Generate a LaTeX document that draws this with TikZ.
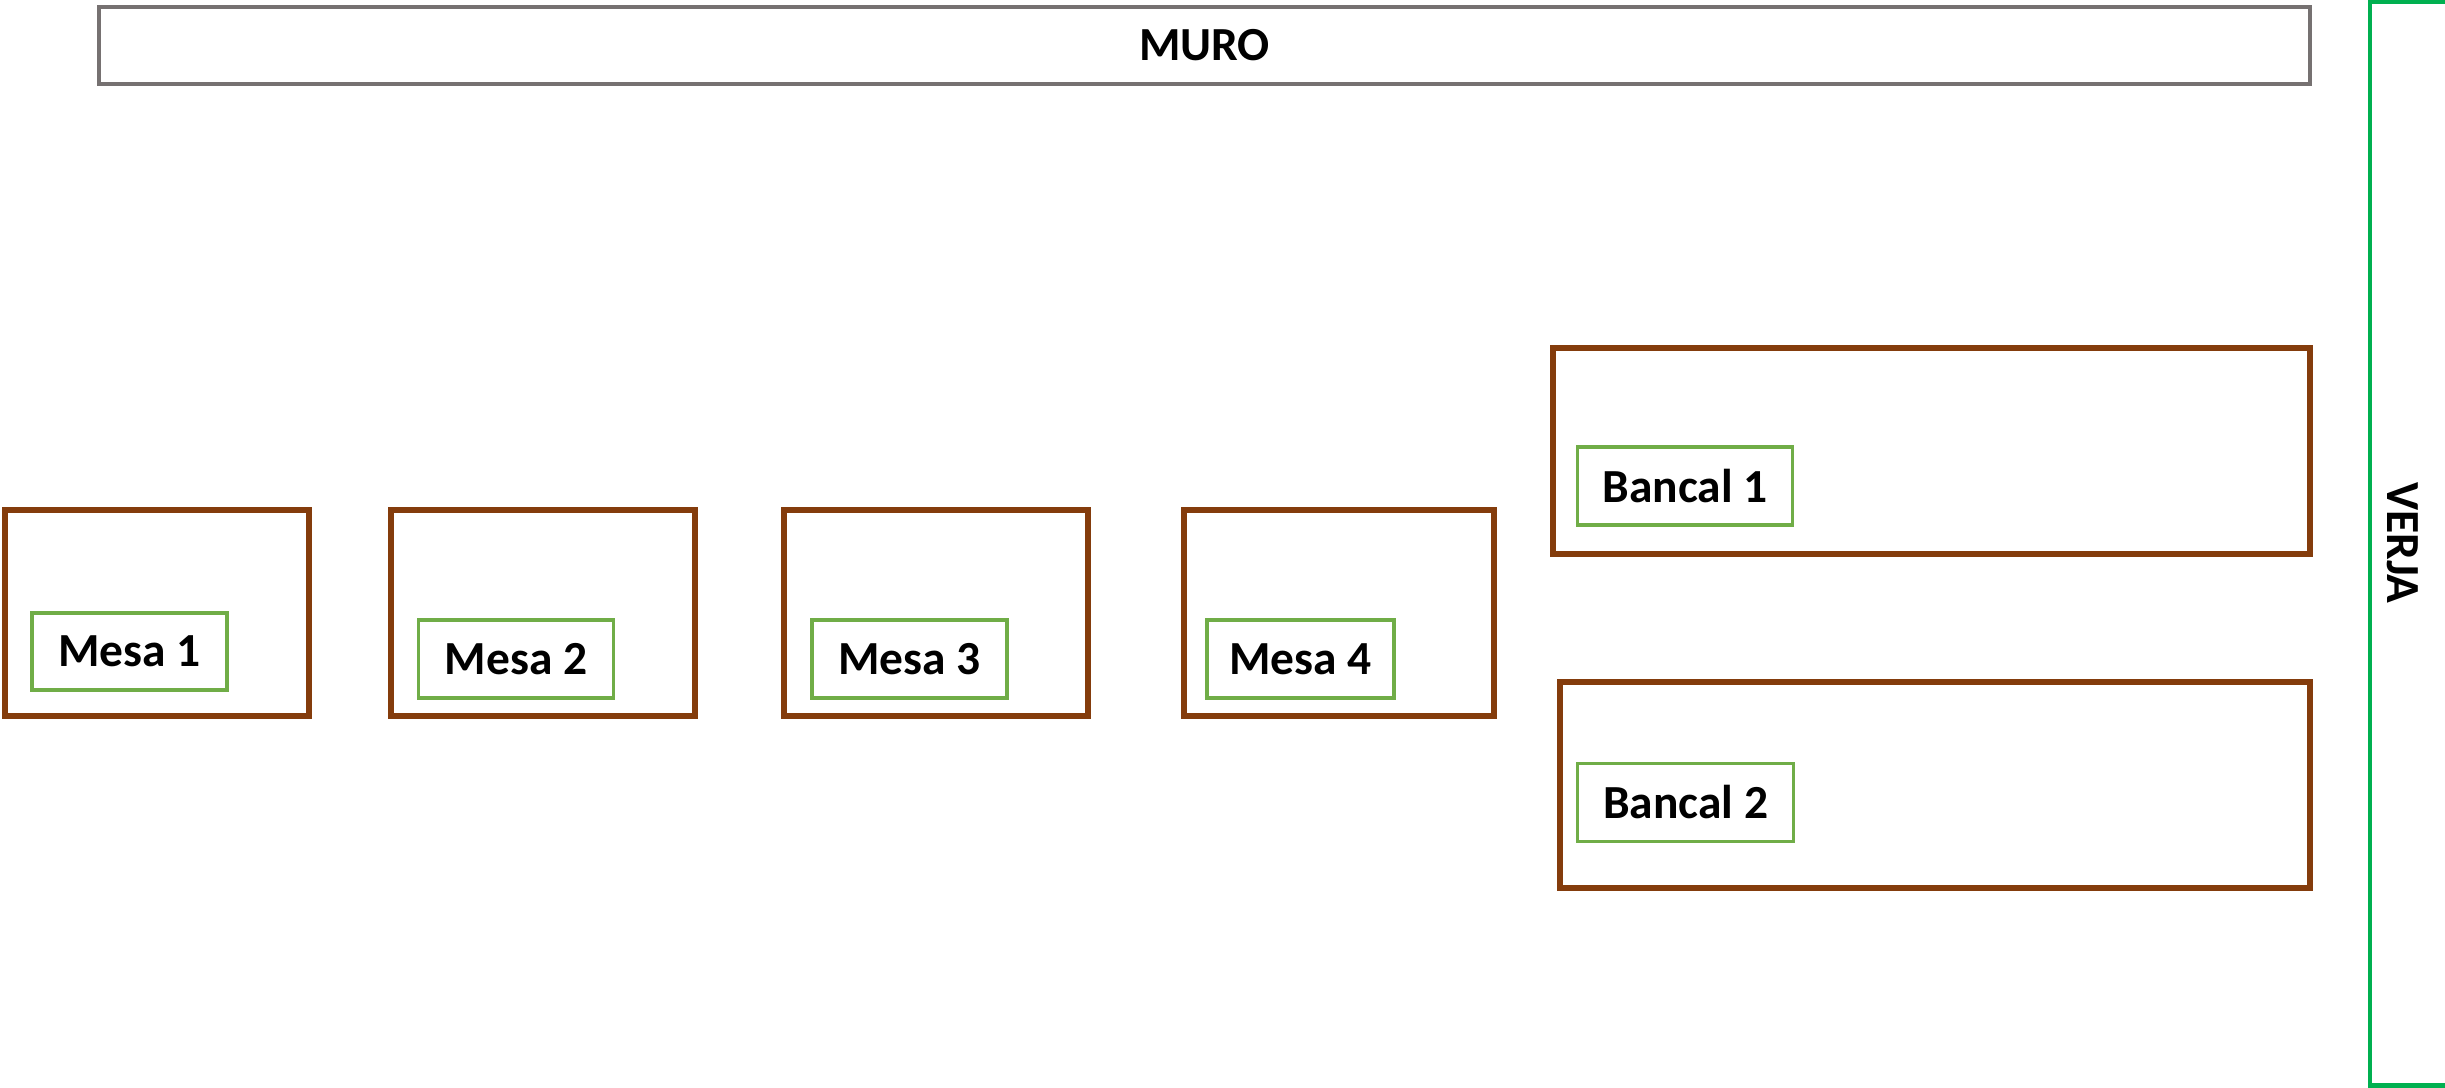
\documentclass[tikz,border=0pt]{standalone}
\usepackage{fontspec}
\setmainfont{Carlito}
\definecolor{brownbox}{HTML}{843C0C}
\definecolor{greenlabel}{HTML}{70AD47}
\definecolor{greenfence}{HTML}{00B050}
\definecolor{graywall}{HTML}{767171}
\begin{document}
\begin{tikzpicture}[x=0.01cm,y=-0.01cm,
  mesabox/.style={draw=brownbox, line width=1.7pt, rectangle, inner sep=0pt, fill=white},
  labelbox/.style={draw=greenlabel, line width=0.9pt, rectangle, inner sep=0pt, fill=white,
    font=\fontsize{13.5}{16}\selectfont\bfseries},
  wallbox/.style={draw=graywall, line width=1.2pt, rectangle, inner sep=0pt,
    font=\fontsize{13.5}{16}\selectfont\bfseries},
  fencebox/.style={draw=greenfence, line width=1.3pt, rectangle, inner sep=0pt},
  fencetext/.style={font=\fontsize{13.5}{16}\selectfont\bfseries, rotate=-90, inner sep=0pt}]
\clip (0,0) rectangle (2445,1087);
\fill[white] (0,0) rectangle (2445,1087);
% wall
\node[wallbox, minimum width=22.09cm, minimum height=0.77cm] (muro) at (1204.5,45.5) {MURO};
% fence (right edge lies outside the picture)
\node[fencebox, minimum width=1.60cm, minimum height=10.83cm] (verja) at (2450,543.5) {};
\node[fencetext] (verjatext) at (2403,543) {VERJA};
% tables
\node[mesabox, minimum width=3.045cm, minimum height=2.06cm] (mesa1) at (157,613) {};
\node[mesabox, minimum width=3.04cm, minimum height=2.06cm] (mesa2) at (543,613) {};
\node[mesabox, minimum width=3.04cm, minimum height=2.06cm] (mesa3) at (936,613) {};
\node[mesabox, minimum width=3.10cm, minimum height=2.06cm] (mesa4) at (1339,613) {};
\node[labelbox, minimum width=1.95cm, minimum height=0.77cm] (lmesa1) at (129.5,651.5) {Mesa 1};
\node[labelbox, minimum width=1.95cm, minimum height=0.78cm] (lmesa2) at (516,659) {Mesa 2};
\node[labelbox, minimum width=1.95cm, minimum height=0.78cm] (lmesa3) at (909.5,659) {Mesa 3};
\node[labelbox, minimum width=1.87cm, minimum height=0.78cm] (lmesa4) at (1300.5,659) {Mesa 4};
% beds
\node[mesabox, minimum width=7.57cm, minimum height=2.06cm] (bancal1) at (1931.5,451) {};
\node[mesabox, minimum width=7.50cm, minimum height=2.06cm] (bancal2) at (1935,785) {};
\node[labelbox, minimum width=2.15cm, minimum height=0.78cm] (lbancal1) at (1685,486) {Bancal 1};
\node[labelbox, minimum width=2.16cm, minimum height=0.78cm] (lbancal2) at (1685.5,802.5) {Bancal 2};
\end{tikzpicture}
\end{document}
